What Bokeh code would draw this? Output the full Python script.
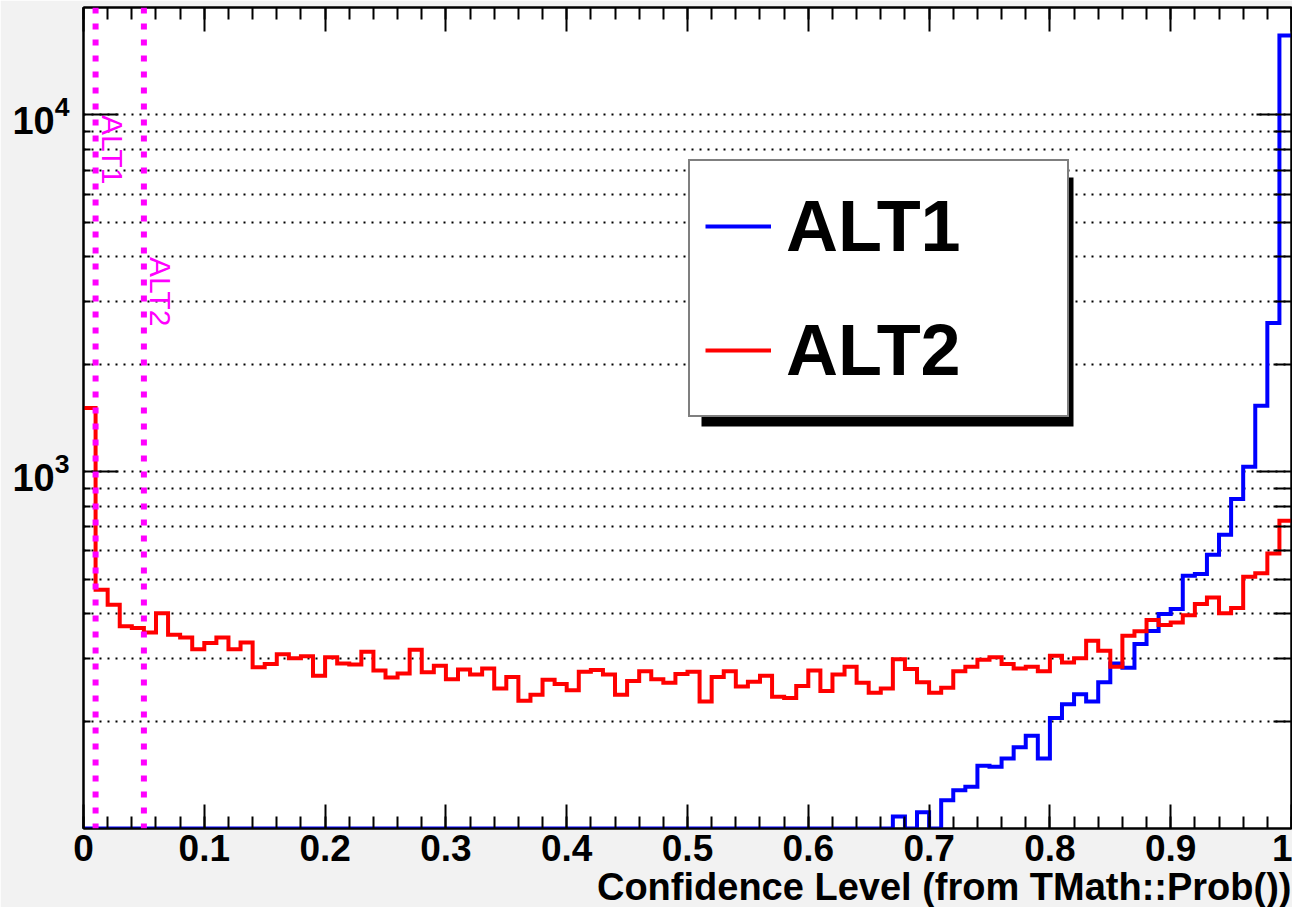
import numpy as np
from bokeh.plotting import figure
from bokeh.models import (Range1d, FixedTicker, LogAxis, LinearAxis, Legend, LegendItem,
                          Span, BoxAnnotation, Title)
from bokeh.core.properties import value
from bokeh.embed import file_html
from bokeh.resources import INLINE

# ---------------- data ----------------
n_bins = 100
bin_edges = list(np.linspace(0.0, 1.0, n_bins + 1))

alt1 = [0] * 67 + [108, 0, 111, 0, 120, 128, 131, 150, 149, 157,
                   169, 182, 157, 204, 223, 238, 227, 257, 290, 282,
                   329, 358, 399, 412, 511, 517, 585, 666, 838, 1033,
                   1531, 2612, 16685]

alt2 = [1509, 467, 424, 369, 365, 354, 401, 349, 343, 318,
        331, 343, 318, 332, 283, 289, 308, 300, 304, 268,
        302, 290, 288, 313, 277, 265, 272, 317, 274, 286,
        262, 279, 270, 281, 247, 266, 228, 237, 261, 254,
        244, 275, 278, 270, 237, 259, 276, 262, 256, 271,
        275, 227, 266, 276, 250, 258, 268, 234, 232, 251,
        277, 243, 270, 284, 256, 240, 247, 298, 280, 257,
        240, 248, 276, 284, 297, 302, 289, 281, 284, 276,
        305, 292, 300, 336, 315, 284, 347, 357, 384, 372,
        378, 396, 426, 444, 401, 415, 508, 519, 590, 729]

series_names = ["ALT1", "ALT2"]
series_colors = ["#0000ff", "#ff0000"]

x_ticks = [0, 0.1, 0.2, 0.3, 0.4, 0.5, 0.6, 0.7, 0.8, 0.9, 1]
x_tick_labels = ["0", "0.1", "0.2", "0.3", "0.4", "0.5", "0.6", "0.7", "0.8", "0.9", "1"]
y_ticks = [1000, 10000]

cuts = [0.01, 0.05]
cut_labels = ["ALT1", "ALT2"]
cut_label_y = [10000, 4000]

x_title = "Confidence Level (from TMath::Prob())"

y_min, y_max = 100, 20000

# ---------------- figure ----------------
FONT = "Liberation Sans"
p = figure(frame_width=1208, frame_height=821,
           x_range=Range1d(0, 1), y_range=Range1d(y_min, y_max),
           y_axis_type="log", output_backend="svg", toolbar_location=None,
           min_border_left=83, min_border_right=1, min_border_top=7, min_border_bottom=0,
           background_fill_color="white", border_fill_color="#f2f2f2",
           outline_line_color="black", outline_line_width=2)

x_minor = [round(i * 0.02, 2) for i in range(51)]
y_minor = [m * d for d in (100, 1000) for m in range(2, 10)]
x_ticker = FixedTicker(ticks=x_ticks, minor_ticks=x_minor)
y_ticker = FixedTicker(ticks=y_ticks, minor_ticks=y_minor)

# histograms (step lines)
renderers = []
for vals, col in zip([alt1, alt2], series_colors):
    yv = [max(v, y_min) for v in vals]
    yv = yv + [yv[-1]]
    r = p.step(bin_edges, yv, mode="after", line_color=col, line_width=4, line_join="miter")
    renderers.append(r)

# bottom axis
xa = p.below[0]
xa.ticker = x_ticker
xa.major_label_overrides = dict(zip(x_ticks, x_tick_labels))
xa.major_tick_in = 24
xa.major_tick_out = 0
xa.minor_tick_in = 12
xa.minor_tick_out = 0
xa.major_tick_line_width = 2
xa.minor_tick_line_width = 2
xa.axis_line_width = 2
xa.major_label_standoff = 6
xa.major_label_text_font = FONT
xa.major_label_text_font_style = "bold"
xa.major_label_text_font_size = "37px"
xa.major_label_text_color = "black"

# x-axis title, right aligned at the end of the axis
p.add_layout(Title(text=x_title, align="right", text_font=FONT, text_font_style="bold",
                   text_font_size="38px", text_color="black", standoff=0, offset=0), "below")

# left axis
ya = p.left[0]
ya.ticker = y_ticker
ya.major_tick_in = 35
ya.major_tick_out = 0
ya.minor_tick_in = 7
ya.minor_tick_out = 0
ya.major_tick_line_width = 2
ya.minor_tick_line_width = 2
ya.axis_line_width = 2
ya.major_label_standoff = 14
ya.major_label_text_font = FONT
ya.major_label_text_font_style = "bold"
ya.major_label_text_font_size = "38px"
ya.major_label_text_color = "black"

# right axis (ticks only)
ra = LogAxis(ticker=y_ticker, major_tick_in=35, major_tick_out=0, minor_tick_in=18, minor_tick_out=0,
             major_tick_line_width=2, minor_tick_line_width=2, axis_line_width=2,
             major_label_standoff=0, major_label_text_font_size="0px",
             major_label_overrides={t: "" for t in y_ticks})
p.add_layout(ra, "right")

# top axis (ticks only)
ta = LinearAxis(ticker=x_ticker, major_tick_in=24, major_tick_out=0, minor_tick_in=12, minor_tick_out=0,
                major_tick_line_width=2, minor_tick_line_width=2, axis_line_width=2,
                major_label_standoff=0, major_label_text_font_size="0px",
                major_label_overrides={t: "" for t in x_ticks})
p.add_layout(ta, "above")

# grid: horizontal dotted only
p.xgrid.visible = False
p.ygrid.ticker = y_ticker
p.ygrid.grid_line_color = "black"
p.ygrid.grid_line_width = 2
p.ygrid.grid_line_dash = "2 6"
p.ygrid.minor_grid_line_color = "black"
p.ygrid.minor_grid_line_width = 2
p.ygrid.minor_grid_line_dash = "2 6"

# cut lines
for c in cuts:
    p.add_layout(Span(location=c, dimension="height", line_color="#ff00ff",
                      line_width=6, line_dash="6 10"))
p.text(x=cuts, y=cut_label_y, text=cut_labels, angle=-np.pi / 2,
       text_color="#ff00ff", text_font=value(FONT), text_font_size="30px",
       text_align="left", text_baseline="middle", x_offset=17, y_offset=0)

# legend with shadow
leg_x, leg_y = 605, 411
pad, gw, gh, lstand, lw, lh, sp = 15, 66, 100, 15, 266, 100, 24
leg_w = 2 * pad + gw + lstand + lw
leg_h = 2 * pad + 2 * lh + sp
shadow = BoxAnnotation(left=leg_x + 13, right=leg_x + leg_w + 8,
                       bottom=leg_y - 9, top=leg_y + leg_h - 14,
                       left_units="screen", right_units="screen",
                       bottom_units="screen", top_units="screen",
                       fill_color="black", fill_alpha=1, line_color=None)
p.add_layout(shadow)

legend = Legend(items=[LegendItem(label=n, renderers=[r]) for n, r in zip(series_names, renderers)],
                location=(leg_x, leg_y), orientation="vertical", padding=pad, spacing=sp,
                glyph_width=gw, glyph_height=gh, label_height=lh, label_width=lw,
                label_standoff=lstand, label_text_font=FONT, label_text_font_style="bold",
                label_text_font_size="72px", label_text_color="black",
                border_line_color="black", border_line_width=2,
                background_fill_color="white", background_fill_alpha=1, margin=0)
p.add_layout(legend)

open("out.html", "w").write(file_html(p, INLINE))
